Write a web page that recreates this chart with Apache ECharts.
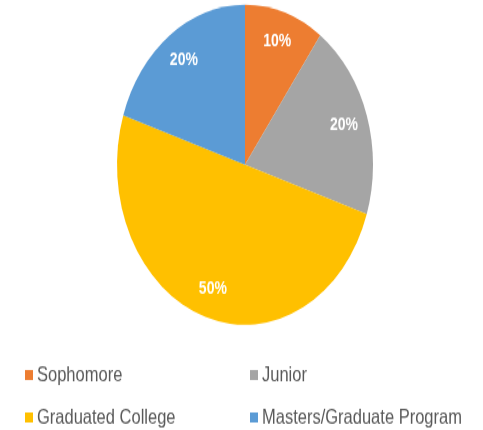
<!DOCTYPE html>
<html>
<head>
<meta charset="utf-8">
<script src="https://cdn.jsdelivr.net/npm/echarts@6/dist/echarts.min.js"></script>
<style>
  html, body { margin: 0; padding: 0; background: #ffffff; overflow: hidden; }
  #wrap { width: 483px; height: 430px; overflow: hidden; }
  /* chart is drawn at 344px tall and stretched vertically to fill 430px */
  #chart { width: 483px; height: 344px; transform: scaleY(1.25); transform-origin: 0 0; }
</style>
</head>
<body>
<div id="wrap"><div id="chart"></div></div>
<script>
const categories = ['Sophomore', 'Junior', 'Graduated College', 'Masters/Graduate Program'];
const shares = [10, 20, 50, 20];
const colors = ['#ED7D31', '#A5A5A5', '#FFC000', '#5B9BD5'];

const slices = categories.map((name, i) => ({ name: name, value: shares[i] }));
const FONT = '"Liberation Sans", Arial, sans-serif';

const chart = echarts.init(document.getElementById('chart'), null, { renderer: 'canvas' });
chart.setOption({
  backgroundColor: '#ffffff',
  color: colors,
  animation: false,
  legend: {
    data: categories,
    left: 20,
    top: 286,
    width: 470,
    orient: 'horizontal',
    icon: 'rect',
    itemWidth: 8,
    itemHeight: 8,
    itemGap: 16,
    selectedMode: false,
    textStyle: {
      color: '#595959',
      fontFamily: FONT,
      fontSize: 16.5,
      width: 197,
      overflow: 'none',
      lineHeight: 18,
      padding: [0, 0, 0, -1]
    }
  },
  series: [
    {
      type: 'pie',
      center: [245, 131.8],
      radius: [0, 128],
      startAngle: 90,
      clockwise: true,
      data: slices,
      label: { show: false },
      labelLine: { show: false },
      itemStyle: { borderWidth: 0 },
      emphasis: { disabled: true }
    },
    {
      // transparent ring used only to place the percentage labels near the rim
      type: 'pie',
      center: [245, 131.8],
      radius: [74, 128],
      startAngle: 90,
      clockwise: true,
      silent: true,
      data: slices,
      itemStyle: { color: 'rgba(0,0,0,0)', borderWidth: 0 },
      label: {
        show: true,
        position: 'inside',
        formatter: p => p.value + '%',
        color: '#ffffff',
        fontFamily: FONT,
        fontSize: 14,
        fontWeight: 'bold'
      },
      labelLine: { show: false },
      emphasis: { disabled: true }
    }
  ]
});
</script>
</body>
</html>
